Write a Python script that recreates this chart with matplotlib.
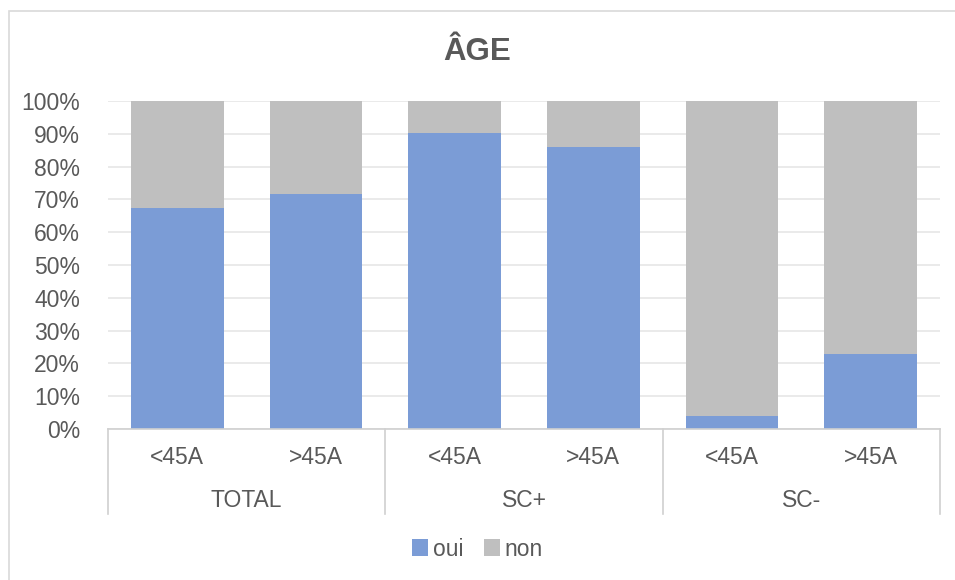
import numpy as np
import matplotlib.pyplot as plt
from matplotlib.patches import Rectangle

groups = ['TOTAL', 'SC+', 'SC-']
ages = ['<45A', '>45A']
oui = [67.5, 71.7, 90.3, 86.1, 4.1, 22.9]
non = [100 - v for v in oui]

blue = '#7B9CD6'
grey = '#BFBFBF'
txt = '#595959'

plt.rcParams['font.family'] = ['Liberation Sans', 'DejaVu Sans']

fig = plt.figure(figsize=(9.55, 5.8), dpi=100)
# chart frame, cut off at right and bottom like the screenshot
fig.patches.append(Rectangle((8.5 / 955, -10 / 580), 960 / 955, 579.5 / 580,
                             transform=fig.transFigure, fill=False,
                             edgecolor='#D9D9D9', linewidth=1.2))
ax = fig.add_axes([108 / 955, 1 - 429 / 580, 832 / 955, 328 / 580])

x = np.arange(len(oui))
ax.bar(x, oui, width=0.67, color=blue, label='oui', zorder=2)
ax.bar(x, non, width=0.67, bottom=oui, color=grey, label='non', zorder=2)

ax.set_xlim(-0.5, len(oui) - 0.5)
ax.set_ylim(0, 100)
ax.set_yticks(np.arange(0, 101, 10))
ax.set_yticklabels(['%d%%' % v for v in range(0, 101, 10)])
ax.tick_params(axis='y', length=0, pad=20, labelsize=16.5, labelcolor=txt)
ax.set_xticks([])
ax.grid(axis='y', color='#E6E6E6', linewidth=1.2, zorder=0)
for s in ['top', 'right', 'left']:
    ax.spines[s].set_visible(False)
ax.spines['bottom'].set_color('#D0D0D0')
ax.spines['bottom'].set_linewidth(1.2)

# two level category axis
tr = ax.get_xaxis_transform()
for i, lab in enumerate(ages * len(groups)):
    ax.text(i, -0.088, lab, transform=tr, ha='center', va='center',
            fontsize=16.5, color=txt)
for g, name in enumerate(groups):
    ax.text(2 * g + 0.5, -0.218, name, transform=tr, ha='center', va='center',
            fontsize=16.5, color=txt)
for b in np.arange(-0.5, len(oui), 2):
    ax.plot([b, b], [0, -0.26], transform=tr, color='#D0D0D0', lw=1.2,
            clip_on=False)

fig.text(0.5, 1 - 52 / 580, 'ÂGE', ha='center', va='center', fontsize=22.5,
         fontweight='bold', color=txt)

leg = fig.legend(loc='center', bbox_to_anchor=(0.5, 1 - 549 / 580), ncol=2,
                 frameon=False, fontsize=16.5, handlelength=0.7,
                 handleheight=0.7, handletextpad=0.2, columnspacing=0.9)
for t in leg.get_texts():
    t.set_color(txt)

fig.savefig('out.png', dpi=100)
